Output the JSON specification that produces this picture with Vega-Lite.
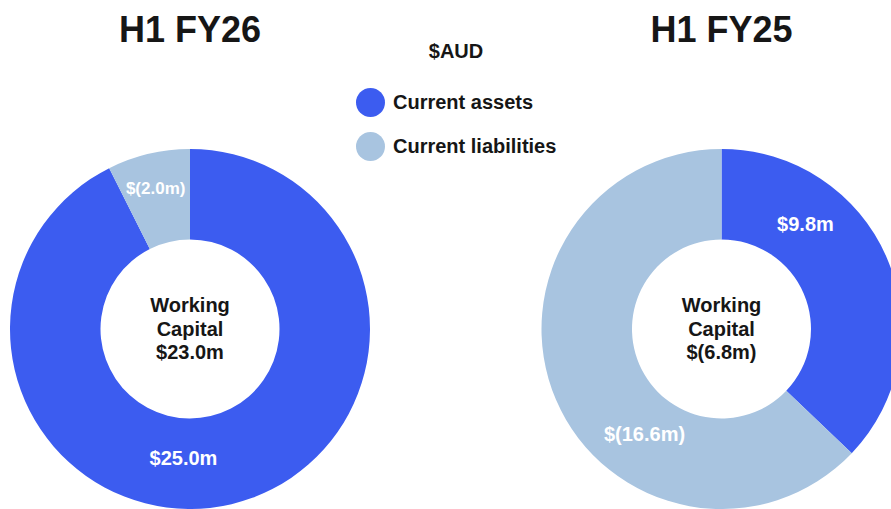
{
  "$schema": "https://vega.github.io/schema/vega-lite/v6.json",
  "width": 891,
  "height": 509,
  "autosize": {"type": "none"},
  "padding": 0,
  "background": "white",
  "config": {
    "view": {"stroke": null},
    "font": "Liberation Sans",
    "legend": {
      "orient": "none",
      "legendX": 356,
      "legendY": 42,
      "padding": 0,
      "titleFont": "Liberation Sans",
      "titleFontSize": 20,
      "titleFontWeight": "bold",
      "titleColor": "#161616",
      "titleAnchor": "middle",
      "titlePadding": 26,
      "titleLimit": 300,
      "labelFont": "Liberation Sans",
      "labelFontSize": 20,
      "labelFontWeight": "bold",
      "labelColor": "#161616",
      "labelLimit": 300,
      "labelOffset": 8,
      "symbolType": "circle",
      "symbolSize": 841,
      "symbolStrokeWidth": 0,
      "rowPadding": 15
    }
  },
  "datasets": {
    "parts": [
      {"period": "H1 FY26", "series": "Current assets", "value": 25.0, "label": "$25.0m"},
      {"period": "H1 FY26", "series": "Current liabilities", "value": 2.0, "label": "$(2.0m)"},
      {"period": "H1 FY25", "series": "Current assets", "value": 9.8, "label": "$9.8m"},
      {"period": "H1 FY25", "series": "Current liabilities", "value": 16.6, "label": "$(16.6m)"}
    ],
    "periods": [
      {"period": "H1 FY26", "center_text": "Working\nCapital\n$23.0m"},
      {"period": "H1 FY25", "center_text": "Working\nCapital\n$(6.8m)"}
    ]
  },
  "layer": [
    {
      "data": {"name": "parts"},
      "transform": [
        {"stack": "value", "groupby": ["period"], "sort": [{"field": "series", "order": "ascending"}], "offset": "normalize", "as": ["v0", "v1"]}
      ],
      "mark": {"type": "arc", "innerRadius": 89.5, "outerRadius": 180},
      "encoding": {
        "x": {"field": "period", "type": "nominal", "axis": null, "scale": {"type": "point", "domain": ["H1 FY26", "H1 FY25"], "padding": 0.3382, "align": 0.5285, "round": false}},
        "y": {"datum": "donut", "type": "nominal", "axis": null, "scale": {"type": "point", "domain": ["title", "donut"], "padding": 0.354, "align": 0.1469, "round": false}},
        "theta": {"field": "v0", "type": "quantitative", "stack": null, "scale": {"domain": [0, 1]}},
        "theta2": {"field": "v1"},
        "color": {
          "field": "series",
          "type": "nominal",
          "scale": {"domain": ["Current assets", "Current liabilities"], "range": ["#3C5CF0", "#A8C4E0"]},
          "legend": {"title": "$AUD"}
        }
      }
    },
    {
      "data": {"name": "parts"},
      "transform": [
        {"stack": "value", "groupby": ["period"], "sort": [{"field": "series", "order": "ascending"}], "offset": "normalize", "as": ["v0", "v1"]},
        {"filter": {"field": "label", "equal": "$25.0m"}}
      ],
      "mark": {"type": "text", "radius": 130, "thetaOffset": 3.192, "fontSize": 20, "fontWeight": "bold", "color": "white", "align": "center", "baseline": "middle"},
      "encoding": {
        "x": {"field": "period", "type": "nominal"},
        "y": {"datum": "donut", "type": "nominal"},
        "theta": {"field": "v0", "type": "quantitative", "stack": null},
        "text": {"field": "label"}
      }
    },
    {
      "data": {"name": "parts"},
      "transform": [
        {"stack": "value", "groupby": ["period"], "sort": [{"field": "series", "order": "ascending"}], "offset": "normalize", "as": ["v0", "v1"]},
        {"filter": {"field": "label", "equal": "$(2.0m)"}}
      ],
      "mark": {"type": "text", "radius": 144, "thetaOffset": 0.2246, "fontSize": 17, "fontWeight": "bold", "color": "white", "align": "center", "baseline": "middle"},
      "encoding": {
        "x": {"field": "period", "type": "nominal"},
        "y": {"datum": "donut", "type": "nominal"},
        "theta": {"field": "v0", "type": "quantitative", "stack": null},
        "text": {"field": "label"}
      }
    },
    {
      "data": {"name": "parts"},
      "transform": [
        {"stack": "value", "groupby": ["period"], "sort": [{"field": "series", "order": "ascending"}], "offset": "normalize", "as": ["v0", "v1"]},
        {"filter": {"field": "label", "equal": "$9.8m"}}
      ],
      "mark": {"type": "text", "radius": 134, "thetaOffset": 0.6772, "fontSize": 20, "fontWeight": "bold", "color": "white", "align": "center", "baseline": "middle"},
      "encoding": {
        "x": {"field": "period", "type": "nominal"},
        "y": {"datum": "donut", "type": "nominal"},
        "theta": {"field": "v0", "type": "quantitative", "stack": null},
        "text": {"field": "label"}
      }
    },
    {
      "data": {"name": "parts"},
      "transform": [
        {"stack": "value", "groupby": ["period"], "sort": [{"field": "series", "order": "ascending"}], "offset": "normalize", "as": ["v0", "v1"]},
        {"filter": {"field": "label", "equal": "$(16.6m)"}}
      ],
      "mark": {"type": "text", "radius": 131, "thetaOffset": 1.4375, "fontSize": 20, "fontWeight": "bold", "color": "white", "align": "center", "baseline": "middle"},
      "encoding": {
        "x": {"field": "period", "type": "nominal"},
        "y": {"datum": "donut", "type": "nominal"},
        "theta": {"field": "v0", "type": "quantitative", "stack": null},
        "text": {"field": "label"}
      }
    },
    {
      "data": {"name": "periods"},
      "mark": {"type": "text", "fontSize": 20, "fontWeight": "bold", "color": "#161616", "align": "center", "baseline": "middle", "lineBreak": "\n", "lineHeight": 23.5, "dy": -23},
      "encoding": {
        "x": {"field": "period", "type": "nominal"},
        "y": {"datum": "donut", "type": "nominal"},
        "text": {"field": "center_text"}
      }
    },
    {
      "data": {"name": "periods"},
      "mark": {"type": "text", "fontSize": 36, "fontWeight": "bold", "color": "#161616", "align": "center", "baseline": "middle"},
      "encoding": {
        "x": {"field": "period", "type": "nominal"},
        "y": {"datum": "title", "type": "nominal"},
        "text": {"field": "period"}
      }
    }
  ]
}
